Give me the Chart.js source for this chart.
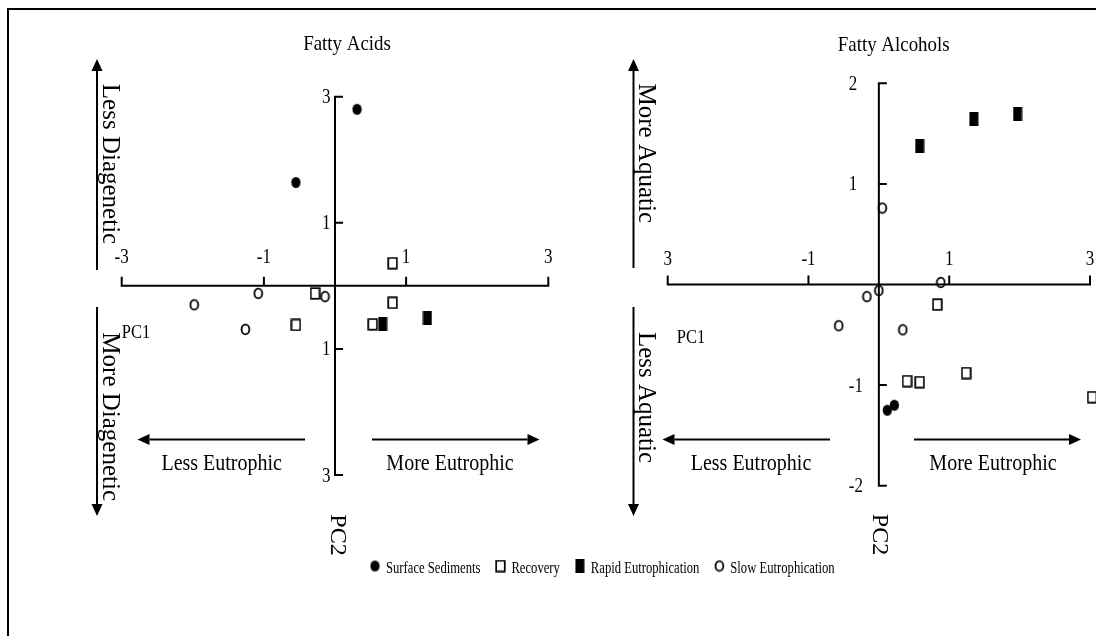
<!DOCTYPE html>
<html>
<head>
<meta charset="utf-8">
<script src="https://cdn.jsdelivr.net/npm/chart.js@4.4.1/dist/chart.umd.min.js"></script>
<style>
  html, body { margin: 0; padding: 0; background: #fff; }
  #wrap { position: relative; width: 1096px; height: 636px; overflow: hidden; }
  #wrap canvas { position: absolute; left: 0; top: 0; }
  #frame { position: absolute; left: 7px; top: 8px; right: -4px; bottom: -4px;
           border-top: 2px solid #000; border-left: 2px solid #000; }
</style>
</head>
<body>
<div id="wrap">
  <div id="frame"></div>
  <canvas id="acids" width="1096" height="636"></canvas>
  <canvas id="alcohols" width="1096" height="636"></canvas>
</div>
<script>
// series order / legend labels
const seriesNames = ['Surface Sediments', 'Recovery', 'Rapid Eutrophication', 'Slow Eutrophication'];

// Fatty Acids PCA scores [PC1, PC2]
const acidSurface  = [[0.31, 2.80], [-0.55, 1.64]];
const acidRecovery = [[0.81, 0.36], [-0.28, -0.12], [0.81, -0.27], [0.53, -0.61], [-0.55, -0.62]];
const acidRapid    = [[0.67, -0.61], [1.30, -0.51]];
const acidSlow     = [[-1.08, -0.12], [-0.14, -0.17], [-1.98, -0.30], [-1.26, -0.69]];

// Fatty Alcohols PCA scores [PC1, PC2]
const alcSurface  = [[0.12, -1.25], [0.22, -1.20]];
const alcRecovery = [[0.83, -0.20], [0.40, -0.96], [0.58, -0.97], [1.24, -0.88], [3.03, -1.12]];
const alcRapid    = [[0.58, 1.38], [1.35, 1.645], [1.97, 1.695]];
const alcSlow     = [[0.05, 0.76], [0.88, 0.02], [0.0, -0.06], [-0.17, -0.12], [-0.57, -0.41], [0.34, -0.45]];

// tick values and the labels printed at them
const acidXTicks = [-3, -1, 1, 3];
const acidXLabels = ['-3', '-1', '1', '3'];
const acidYTicks = [3, 1, -1, -3];
const acidYLabels = ['3', '1', '1', '3'];
const alcXTicks = [-3, -1, 1, 3];
const alcXLabels = ['3', '-1', '1', '3'];
const alcYTicks = [2, 1, -1, -2];
const alcYLabels = ['2', '1', '-1', '-2'];

const ink = '#000';
const serif = '"Liberation Serif", "Times New Roman", serif';

function marker(w, h, draw) {
  const c = document.createElement('canvas');
  c.width = w; c.height = h;
  const g = c.getContext('2d');
  g.fillStyle = ink; g.strokeStyle = ink;
  draw(g);
  return c;
}
const dotFilled = marker(11, 13, g => { g.beginPath(); g.ellipse(5.5, 6.5, 4.6, 5.6, 0, 0, Math.PI * 2); g.fill(); });
const boxOpen = marker(11, 13, g => { g.lineWidth = 1.7; g.strokeRect(1.2, 1.2, 8.6, 10.6); });
const boxFilled = marker(10, 14, g => { g.fillRect(0.5, 0, 9, 14); });
const dotOpen = marker(11, 13, g => { g.lineWidth = 1.8; g.beginPath(); g.ellipse(5.5, 6.5, 3.9, 4.9, 0, 0, Math.PI * 2); g.stroke(); });
const styles = [dotFilled, boxOpen, boxFilled, dotOpen];

function series(i, pts) {
  return {
    label: seriesNames[i],
    data: pts.map(p => ({ x: p[0], y: p[1] })),
    pointStyle: styles[i],
    pointRadius: 6,
    pointBorderWidth: 0,
    showLine: false,
    clip: false
  };
}

function drawText(ctx, str, x, y, size, sx, align, rot) {
  ctx.save();
  ctx.translate(x, y);
  if (rot) ctx.rotate(rot);
  ctx.scale(sx, 1);
  ctx.font = size + 'px ' + serif;
  ctx.fillStyle = ink;
  ctx.textAlign = align;
  ctx.textBaseline = 'alphabetic';
  ctx.fillText(str, 0, 0);
  ctx.restore();
}

function arrow(ctx, x1, y1, x2, y2) {
  const a = Math.atan2(y2 - y1, x2 - x1), len = 12, half = 5.5;
  const c = Math.cos(a), s = Math.sin(a);
  const bx = x2 - len * c, by = y2 - len * s;
  ctx.beginPath(); ctx.moveTo(x1, y1); ctx.lineTo(bx, by); ctx.stroke();
  ctx.beginPath(); ctx.moveTo(x2, y2);
  ctx.lineTo(bx + half * s, by - half * c);
  ctx.lineTo(bx - half * s, by + half * c);
  ctx.closePath(); ctx.fill();
}

const decor = {
  acids: {
    title: ['Fatty Acids', 347, 49.5],
    xTicks: acidXTicks, xLabels: acidXLabels, yTicks: acidYTicks, yLabels: acidYLabels,
    yAlign: 'right', yDx: -4.5, xDy: -23,
    arrows: [[97, 270, 97, 59], [97, 307, 97, 516], [305, 439.5, 137.5, 439.5], [372, 439.5, 539.5, 439.5]],
    flat: [['Less Eutrophic', 221.7, 470], ['More Eutrophic', 450, 470]],
    upright: [['Less Diagenetic', 103, 164], ['More Diagenetic', 103, 416.7], ['PC2', 330.5, 535]],
    pc1: [121.7, 338.3],
    legend: true
  },
  alcohols: {
    title: ['Fatty Alcohols', 893.7, 50.5],
    xTicks: alcXTicks, xLabels: alcXLabels, yTicks: alcYTicks, yLabels: alcYLabels,
    yAlign: 'left', yDx: -30, xDy: -20,
    arrows: [[633.5, 268, 633.5, 59], [633.5, 307, 633.5, 516], [830, 439.5, 662.5, 439.5], [914, 439.5, 1081, 439.5]],
    flat: [['Less Eutrophic', 751, 470], ['More Eutrophic', 993, 470]],
    upright: [['More Aquatic', 638.5, 153.3], ['Less Aquatic', 638.5, 397.5], ['PC2', 873, 534.5]],
    pc1: [676.7, 343],
    legend: false
  }
};

const axesPlugin = {
  id: 'crossAxes',
  beforeDatasetsDraw(chart) {
    const d = decor[chart.canvas.id];
    const { ctx } = chart;
    const xs = chart.scales.x, ys = chart.scales.y;
    const x0 = xs.getPixelForValue(0), y0 = ys.getPixelForValue(0);
    ctx.save();
    ctx.strokeStyle = ink; ctx.lineWidth = 2;
    ctx.beginPath();
    ctx.moveTo(xs.getPixelForValue(xs.min) - 1, y0); ctx.lineTo(xs.getPixelForValue(xs.max) + 1, y0);
    ctx.moveTo(x0, ys.getPixelForValue(ys.max) - 1); ctx.lineTo(x0, ys.getPixelForValue(ys.min) + 1);
    d.xTicks.forEach(v => { const px = xs.getPixelForValue(v); ctx.moveTo(px, y0); ctx.lineTo(px, y0 - 9); });
    d.yTicks.forEach(v => { const py = ys.getPixelForValue(v); ctx.moveTo(x0, py); ctx.lineTo(x0 + 8, py); });
    ctx.stroke();
    ctx.restore();
    d.xTicks.forEach((v, i) => drawText(ctx, d.xLabels[i], xs.getPixelForValue(v), y0 + d.xDy, 20, 0.85, 'center'));
    d.yTicks.forEach((v, i) => drawText(ctx, d.yLabels[i], x0 + d.yDx, ys.getPixelForValue(v) + 6.5, 20, 0.85, d.yAlign));
  },
  afterDraw(chart) {
    const d = decor[chart.canvas.id];
    const { ctx } = chart;
    ctx.save();
    ctx.strokeStyle = ink; ctx.fillStyle = ink; ctx.lineWidth = 2;
    d.arrows.forEach(a => arrow(ctx, a[0], a[1], a[2], a[3]));
    ctx.restore();
    drawText(ctx, d.title[0], d.title[1], d.title[2], 21, 0.9, 'center');
    d.flat.forEach(t => drawText(ctx, t[0], t[1], t[2], 23, 0.87, 'center'));
    d.upright.forEach(t => drawText(ctx, t[0], t[1], t[2], t[0] === 'PC2' ? 24 : 25, 1, 'center', Math.PI / 2));
    drawText(ctx, 'PC1', d.pc1[0], d.pc1[1], 19, 0.87, 'left');
    if (d.legend) {
      let cx = 375;
      const cy = 566, sx = 0.79;
      chart.data.datasets.forEach(ds => {
        const m = ds.pointStyle;
        ctx.drawImage(m, cx - m.width / 2, cy - m.height / 2);
        const tx = cx + 11;
        drawText(ctx, ds.label, tx, 572.5, 16, sx, 'left');
        ctx.save(); ctx.font = '16px ' + serif;
        const w = ctx.measureText(ds.label).width * sx;
        ctx.restore();
        cx = tx + w + 20;
      });
    }
  }
};

function makeChart(id, sets, xr, yr, pad) {
  return new Chart(document.getElementById(id), {
    type: 'scatter',
    data: { datasets: sets },
    options: {
      responsive: false,
      animation: false,
      events: [],
      layout: { padding: pad },
      scales: {
        x: { type: 'linear', min: xr[0], max: xr[1], display: false },
        y: { type: 'linear', min: yr[0], max: yr[1], display: false }
      },
      plugins: { legend: { display: false }, tooltip: { enabled: false } }
    },
    plugins: [axesPlugin]
  });
}

makeChart('acids',
  [series(0, acidSurface), series(1, acidRecovery), series(2, acidRapid), series(3, acidSlow)],
  [-3, 3], [-3, 3],
  { left: 121.7, right: 1096 - 548.3, top: 96.7, bottom: 636 - 475 });

makeChart('alcohols',
  [series(0, alcSurface), series(1, alcRecovery), series(2, alcRapid), series(3, alcSlow)],
  [-3, 3], [-2, 2],
  { left: 667.7, right: 1096 - 1092.7, top: 83.3, bottom: 636 - 485.7 });
</script>
</body>
</html>
